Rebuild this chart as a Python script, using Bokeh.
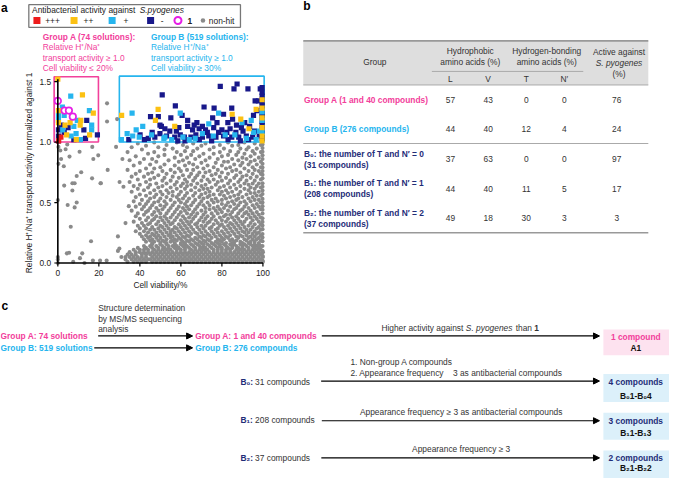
import math
from bokeh.plotting import figure
from bokeh.models import Range1d, Arrow, NormalHead
from bokeh.core.properties import value
from bokeh.embed import file_html
from bokeh.resources import INLINE

FONT = "Liberation Sans"
FS = "8.4px"
PINK = "#f2409b"
CYAN = "#26b5ee"
NAVY = "#18188a"
NAVY_T = "#1f2d78"
YEL = "#fcc113"
RED = "#ee1c1c"
MAG = "#e51ee5"
GREY = "#8a8a8a"
DARK = "#333333"

# ---------------- panel a data ----------------
x_ticks = [0, 20, 40, 60, 80, 100]
y_ticks = [0.0, 0.5, 1.0, 1.5]
activity_threshold = 1.0
group_a_max_viability = 20
group_b_min_viability = 30

# +++ (red)
act3 = [(1.5, 1.04), (0.4, 1.01)]
# ++ (yellow)
act2 = [(0, 1.52), (12, 1.39), (0.3, 1.26), (17.3, 1.24), (11.2, 1.18), (0.3, 1.16), (3.5, 1.14),
        (6, 1.16), (10.9, 1.14), (15.5, 1.06), (4.3, 1.06), (9, 1.02),
        (31.1, 1.22), (48.9, 1.27), (47.6, 1.18), (57, 1.13), (85, 1.23), (89.2, 1.19), (93.2, 1.11),
        (96.7, 1.27), (99.6, 1.35), (99.6, 1.28), (99.6, 1.20), (99.6, 1.12), (99.6, 1.05), (99.6, 1.01)]
# + (cyan)
act1 = [(6.3, 1.38), (2.2, 1.29), (0.3, 1.22), (3.1, 1.22), (15.4, 1.26), (9.5, 1.18), (7.8, 1.13),
        (16.5, 1.14), (16.5, 1.10), (6.5, 1.05), (8.9, 1.07), (11, 1.02), (0.3, 1.18), (2.4, 1.10),
        (59.7, 1.24), (78.4, 1.24), (89.8, 1.16), (73.6, 1.15), (70.5, 1.07), (81.6, 1.06), (86.3, 1.06),
        (95.4, 1.08), (61, 1.04), (64.1, 1.02), (52.2, 1.04), (96.7, 1.02), (99.6, 1.25), (99.6, 1.18),
        (99.6, 1.08), (94.3, 1.18), (36.2, 1.24), (41.4, 1.13), (38.2, 1.10), (33.8, 1.07), (36.5, 1.05),
        (45.7, 1.06), (51.7, 1.03), (31, 1.02), (39.7, 1.04), (55.5, 1.02), (67, 1.03), (75.8, 1.05),
        (92, 1.03), (98.2, 1.09)]
# - (navy)
act0 = [(14.1, 1.18), (1.6, 1.14), (12.7, 1.10), (19.3, 1.06), (0.3, 1.10), (0.3, 1.05), (3.1, 1.08),
        (7.8, 1.02), (0.3, 1.01), (5, 1.12), (13.5, 1.03),
        (50.9, 1.39), (79.2, 1.46), (85.9, 1.44), (87.4, 1.48), (92.7, 1.44), (98.7, 1.44), (96.2, 1.34),
        (97.8, 1.34), (57.3, 1.30), (71.3, 1.29), (76.2, 1.28), (84.8, 1.28), (49, 1.21), (55.1, 1.20),
        (60.6, 1.22), (63.3, 1.18), (67.8, 1.16), (75.5, 1.20), (80.8, 1.23), (85.2, 1.19), (95.4, 1.22),
        (97.1, 1.26), (77.6, 1.16), (82.9, 1.16), (87.1, 1.14), (91.1, 1.16), (49.8, 1.14), (52.2, 1.11),
        (54.6, 1.09), (59, 1.12), (63.3, 1.13), (65.7, 1.10), (68.9, 1.11), (72, 1.10), (76, 1.12),
        (80, 1.10), (84, 1.11), (86.8, 1.08), (90.3, 1.09), (95.9, 1.09), (49.8, 1.07), (53, 1.05),
        (57, 1.04), (59.7, 1.06), (61.7, 1.04), (64.9, 1.04), (67.3, 1.06), (70.5, 1.04), (73.6, 1.05),
        (77.1, 1.04), (80.8, 1.05), (84.8, 1.04), (88.2, 1.04), (91.9, 1.05), (95, 1.04), (98.2, 1.05),
        (57.8, 1.09), (66.5, 1.14), (70.5, 1.13), (72.9, 1.08), (78.4, 1.08), (82.4, 1.08), (89.5, 1.12),
        (93.5, 1.13), (45.2, 1.21), (34.6, 1.02), (40.1, 1.06), (44.1, 1.03), (47.3, 1.04), (42.2, 1.02),
        (50.5, 1.13), (93, 1.02), (62, 1.01), (69, 1.02), (75, 1.01), (83, 1.02), (89, 1.01), (46, 1.08),
        (58.5, 1.01), (99.6, 1.03), (99.6, 1.07), (99.6, 1.10), (99.6, 1.14), (99.6, 1.17), (99.6, 1.21),
        (99.6, 1.24), (99.6, 1.30), (99.6, 1.33), (99.6, 1.38), (99.6, 1.41), (99.6, 1.45)]
# compound 1 (magenta ring)
comp1 = [(0, 1.34), (3.3, 1.26), (5.4, 1.26), (7.3, 1.21)]

# non-hit (grey): sparse points
nonhit_sparse = [(24, 1.32), (24, 1.17), (28.9, 1.19), (0.3, 0.82), (1.6, 0.86), (3.8, 0.94), (4.6, 0.98),
                 (5.7, 0.88), (10.6, 0.92), (16.8, 0.96), (17.3, 0.86), (19.7, 0.89), (28.4, 0.96),
                 (2.9, 0.80), (3.1, 0.64), (7.1, 0.66), (7.1, 0.60), (9.2, 0.72), (11.4, 0.75), (16.7, 0.70),
                 (21, 0.66), (24.3, 0.77), (4.8, 0.48), (8.2, 0.46), (9.2, 0.50), (6.3, 0.30), (16.2, 0.18),
                 (29.3, 0.22), (30.1, 0.67), (32, 0.63), (34.6, 0.47), (4.4, 0.08), (5.5, 0.085), (11.9, 0.08),
                 (10.8, 0.04), (17.1, 0.02), (20.6, 0.02), (23.8, 0.02), (0, 0.05), (0, 0.03), (0, 0.0),
                 (0, 0.52), (29.3, 0.10), (30, 0.12), (0.3, 0.96), (1.2, 0.93), (7.5, 0.01), (13, 0.0),
                 (8.2, 0.66), (20.8, 0.66), (31.5, 0.86), (33, 0.33), (31, 0.05)]
# non-hit (grey): cloud, by activity level
nonhit_rows = [
    (0.997, [47, 58, 83, 91]), (0.988, [39, 66, 72, 96]), (0.976, [53, 61, 79, 88, 99]),
    (0.969, [43, 70, 85]), (0.957, [36, 49, 63, 76, 93]), (0.946, [56, 68, 81, 89, 97]),
    (0.938, [41, 52, 74, 92]), (0.925, [62, 66, 84, 95]), (0.917, [34, 47, 58, 79, 88, 99]),
    (0.903, [44, 71, 76, 91, 96]), (0.894, [52, 60, 65, 83, 87]), (0.882, [38, 49, 69, 80, 94]),
    (0.871, [57, 63, 74, 90, 98]), (0.860, [42, 46, 67, 78, 85, 92]), (0.849, [35, 54, 61, 72, 88, 96]),
    (0.837, [48, 59, 81, 83, 94, 99]), (0.828, [40, 64, 70, 77, 90]), (0.815, [45, 52, 66, 86, 93, 97]),
    (0.806, [37, 57, 62, 73, 80, 89]), (0.792, [50, 68, 76, 84, 95, 99]), (0.781, [43, 47, 59, 71, 82, 91]),
    (0.770, [34, 55, 63, 66, 78, 87, 96]), (0.760, [40, 51, 60, 74, 85, 93, 98]),
    (0.748, [46, 57, 69, 72, 80, 89]), (0.737, [38, 44, 53, 65, 77, 83, 95, 99]),
    (0.726, [49, 61, 68, 75, 87, 92]), (0.714, [36, 42, 56, 64, 71, 79, 90, 97]),
    (0.704, [47, 52, 59, 67, 82, 86, 94]), (0.691, [39, 45, 62, 73, 76, 89, 99]),
    (0.681, [51, 55, 66, 70, 80, 84, 92, 96]), (0.670, [35, 43, 58, 63, 74, 78, 88]),
    (0.658, [48, 53, 61, 68, 83, 91, 95, 98]), (0.647, [40, 45, 57, 65, 72, 77, 86, 93]),
    (0.636, [37, 51, 60, 63, 70, 81, 89, 97]), (0.624, [44, 49, 55, 67, 75, 79, 84, 94, 99]),
    (0.613, [39, 58, 62, 71, 73, 87, 91, 96]), (0.602, [42, 47, 53, 65, 69, 78, 82, 93]),
    (0.589, [36, 50, 56, 60, 74, 80, 85, 89, 98]), (0.579, [45, 54, 63, 67, 72, 83, 94, 96]),
    (0.567, [40, 48, 51, 59, 70, 76, 79, 88, 92]), (0.556, [43, 56, 62, 66, 74, 81, 86, 97, 99]),
    (0.545, [38, 47, 53, 58, 69, 73, 84, 90, 95]), (0.533, [45, 50, 61, 64, 71, 77, 82, 88, 93]),
    (0.522, [41, 55, 59, 67, 75, 80, 87, 96, 98]), (0.510, [37, 44, 49, 52, 63, 70, 78, 85, 91, 94]),
    (0.500, [47, 57, 60, 66, 73, 76, 83, 89, 99]), (0.488, [40, 43, 53, 62, 69, 80, 86, 92, 97]),
    (0.478, [46, 50, 56, 65, 71, 74, 82, 88, 95]), (0.466, [38, 42, 52, 59, 63, 68, 78, 84, 91, 98]),
    (0.455, [45, 48, 55, 61, 72, 76, 81, 87, 93, 96]), (0.444, [41, 51, 58, 64, 67, 74, 79, 86, 90, 99]),
    (0.433, [36, 44, 49, 54, 62, 70, 77, 83, 89, 94]), (0.421, [43, 47, 57, 60, 66, 72, 80, 85, 92, 97]),
    (0.410, [39, 50, 53, 63, 68, 75, 78, 88, 91, 95]), (0.399, [42, 46, 56, 59, 65, 71, 82, 84, 93, 98]),
    (0.387, [38, 48, 52, 61, 67, 73, 76, 81, 87, 90, 96]), (0.376, [44, 50, 55, 58, 64, 70, 79, 85, 94, 99]),
    (0.365, [40, 47, 53, 62, 66, 72, 75, 83, 88, 92, 97]), (0.354, [43, 46, 51, 57, 60, 69, 77, 80, 86, 95]),
    (0.342, [37, 49, 54, 63, 65, 71, 74, 82, 89, 91, 98]), (0.331, [41, 45, 52, 56, 61, 68, 73, 78, 84, 87, 94]),
    (0.320, [44, 48, 55, 59, 64, 67, 76, 80, 85, 90, 96, 99]),
    (0.308, [39, 42, 50, 53, 62, 70, 72, 79, 83, 88, 93]),
    (0.297, [46, 51, 57, 60, 65, 68, 75, 81, 86, 91, 95, 98]),
    (0.286, [40, 43, 49, 54, 58, 63, 71, 74, 78, 84, 89, 97]),
    (0.275, [45, 47, 52, 56, 61, 66, 69, 77, 82, 87, 92, 94, 99]),
    (0.263, [38, 42, 50, 55, 59, 64, 72, 75, 80, 85, 90, 96]),
    (0.252, [44, 48, 53, 57, 62, 67, 70, 78, 83, 88, 91, 93, 98]),
    (0.241, [40, 46, 51, 55, 60, 65, 68, 73, 76, 81, 86, 95, 97]),
    (0.230, [43, 47, 49, 54, 58, 63, 71, 74, 79, 84, 89, 92, 99]),
    (0.219, [41, 45, 52, 56, 61, 64, 69, 72, 77, 82, 87, 90, 94, 96]),
    (0.208, [44, 48, 50, 55, 59, 62, 67, 70, 75, 80, 83, 88, 93, 98]),
    (0.197, [42, 46, 53, 57, 60, 65, 68, 73, 78, 81, 85, 91, 95, 97]),
    (0.186, [45, 49, 51, 56, 58, 63, 66, 71, 74, 79, 84, 87, 92, 99]),
    (0.176, [43, 47, 52, 55, 61, 64, 69, 72, 77, 80, 86, 89, 94, 96]),
    (0.166, [46, 50, 53, 57, 60, 62, 67, 70, 75, 78, 82, 85, 90, 93, 98]),
    (0.155, [46, 50, 53, 57, 60, 62, 65, 68, 71, 73, 76, 79, 81, 84, 86, 89, 91, 94, 96, 98]),
    (0.14, [42, 45, 48, 51, 54, 56, 58, 61, 63, 66, 69, 71, 74, 77, 79, 82, 85, 87, 90, 92, 95, 97, 99]),
    (0.125, [39, 43, 46, 49, 52, 54, 57, 59, 62, 64, 67, 70, 72, 75, 78, 80, 83, 85, 88, 90, 93, 96, 98]),
    (0.11, [37, 40, 42, 44, 47, 49, 51, 53, 55, 58, 60, 62, 65, 67, 69, 71, 73, 76, 78, 80, 82, 84, 87,
            89, 91, 93, 95, 97, 99]),
    (0.09, [35, 38, 40, 42, 44, 46, 48, 50, 52, 54, 56, 58, 60, 62, 64, 66, 68, 70, 72, 74, 76, 78, 80,
            82, 84, 86, 88, 90, 92, 94, 96, 98, 100]),
    (0.07, [34, 36, 38, 41, 43, 45, 47, 49, 51, 53, 55, 57, 59, 61, 63, 65, 67, 69, 71, 73, 75, 77, 79,
            81, 83, 85, 87, 89, 91, 93, 95, 97, 99]),
    (0.05, [33, 35, 37, 39, 41, 43, 46, 48, 50, 52, 54, 56, 58, 60, 62, 64, 66, 68, 70, 72, 74, 76, 78,
            80, 82, 84, 86, 88, 90, 92, 94, 96, 98, 100]),
    (0.03, [33, 36, 38, 40, 42, 44, 45, 47, 49, 51, 53, 55, 57, 59, 61, 63, 65, 67, 69, 71, 73, 75, 77,
            79, 81, 83, 85, 87, 89, 91, 93, 95, 97, 99]),
    (0.01, [34, 37, 39, 41, 43, 46, 48, 50, 52, 54, 56, 58, 60, 62, 64, 66, 68, 70, 72, 74, 76, 78, 80,
            82, 84, 86, 88, 90, 92, 94, 96, 98, 100]),
]
# non-hit at 100 % viability
nonhit_edge_y = [0.02, 0.06, 0.1, 0.14, 0.18, 0.21, 0.24, 0.28, 0.31, 0.34, 0.37, 0.41, 0.44, 0.47,
                 0.5, 0.53, 0.57, 0.6, 0.63, 0.66, 0.7, 0.73, 0.76, 0.79, 0.82, 0.86, 0.89, 0.92, 0.95, 0.98]

# ---------------- panel b data ----------------
tbl_rows = ["Group A (1 and 40 compounds)", "Group B (276 compounds)",
            "B\u2080: the number of T and N\u2032 = 0|(31 compounds)",
            "B\u2081: the number of T and N\u2032 = 1|(208 compounds)",
            "B\u2082: the number of T and N\u2032 = 2|(37 compounds)"]
tbl_L = [57, 44, 37, 44, 49]
tbl_V = [43, 40, 63, 40, 18]
tbl_T = [0, 12, 0, 11, 30]
tbl_N = [0, 4, 0, 5, 3]
tbl_active = [76, 24, 97, 17, 3]

# ---------------- panel c data ----------------
sol_counts = [74, 519]
cmp_labels = ["1 and 40", "276"]
sub_counts = [31, 208, 37]
final_counts = ["1 compound", "4 compounds", "3 compounds", "2 compounds"]
final_ids = ["A1", "B\u20801-B\u20804", "B\u20811-B\u20813", "B\u20821-B\u20822"]


def unzip(pts):
    return [p[0] for p in pts], [p[1] for p in pts]


# One canvas: layout coordinates in the default ranges, scatter data in the extra ranges
PX0, PPU_X = 58.7, 2.1      # canvas position of viability 0, pixels per %
PY0, PPU_Y = 271.3, 125.0   # canvas position of activity 0, pixels per unit
W_REF, H_REF = 685, 494

p = figure(width=669, height=478, x_range=Range1d(0, W_REF), y_range=Range1d(H_REF, 0),
           output_backend="svg", toolbar_location=None, x_axis_type=None, y_axis_type=None,
           min_border=0, outline_line_color=None)
p.background_fill_color = "white"
p.border_fill_color = "white"
p.extra_x_ranges = {"via": Range1d((0 - PX0) / PPU_X, (W_REF - PX0) / PPU_X)}
p.extra_y_ranges = {"act": Range1d((PY0 - H_REF) / PPU_Y, (PY0 - 0) / PPU_Y)}
D = dict(x_range_name="via", y_range_name="act")


def T(x, y, s, color=DARK, style="normal", align="left", size=FS, angle=0.0, **kw):
    p.text(x=[x], y=[y], text=[s], text_font=value(FONT), text_font_size=size, angle=angle,
           text_font_style=style, text_color=color, text_align=align, text_baseline="middle", **kw)


# ---------------- panel a: header ----------------
T(0.5, 8, "a", color="black", style="bold", size="12px")
p.quad(left=[29], right=[245.7], top=[4.3], bottom=[27.7], fill_color=None,
       line_color="#777777", line_width=1.3)
T(32.3, 10, "Antibacterial activity against", color="#222222")
T(142.5, 10, "S.pyogenes", color="#222222", style="italic")
p.scatter(x=[37.3, 75.3, 114.3, 153.7], y=[20.7] * 4, marker="square", size=7,
          fill_color=[RED, YEL, CYAN, NAVY], line_color=None)
p.scatter(x=[181.7], y=[20.7], marker="circle", size=7, fill_color="white", line_color=MAG, line_width=2)
p.scatter(x=[207.3], y=[20.7], marker="circle", size=4.5, fill_color=GREY, line_color=None)
for xx, s in [(45.7, "+++"), (85, "++"), (126, "+"), (164, "-"), (213.3, "non-hit")]:
    T(xx, 21, s, color="#222222")
T(191.5, 21, "1", color="#222222", style="bold")
for xx, col, hdr, crit in [(43.3, PINK, "Group A (%d solutions):" % sol_counts[0], "Cell viability \u2264 20%"),
                           (154, CYAN, "Group B (%d solutions):" % sol_counts[1], "Cell viability \u2265 30%")]:
    T(xx, 37.3, hdr, color=col, style="bold")
    T(xx, 48.3, "Relative H\u207a/Na\u207a", color=col)
    T(xx, 59, "transport activity \u2265 1.0", color=col)
    T(xx, 69.5, crit, color=col)

# ---------------- panel a: scatter ----------------
gx, gy = unzip(nonhit_sparse)
for yv, xs in nonhit_rows:
    gx += xs
    gy += [yv] * len(xs)
gx += [99.8] * len(nonhit_edge_y)
gy += nonhit_edge_y
p.scatter(x=gx, y=gy, marker="circle", size=4.1, fill_color=GREY, line_color=None, **D)

p.quad(left=[-1.8], right=[group_a_max_viability - 0.2], bottom=[activity_threshold], top=[1.54],
       fill_color=None, line_color=PINK, line_width=1.6, **D)
p.quad(left=[group_b_min_viability], right=[100.6], bottom=[activity_threshold], top=[1.545],
       fill_color=None, line_color=CYAN, line_width=1.6, **D)

for pts, col in [(act0, NAVY), (act1, CYAN), (act2, YEL), (act3, RED)]:
    xs, ys = unzip(pts)
    p.scatter(x=xs, y=ys, marker="square", size=5.2, fill_color=col, line_color=None, **D)
cx, cy = unzip(comp1)
p.scatter(x=cx, y=cy, marker="circle", size=6.5, fill_color="white", line_color=MAG, line_width=1.7, **D)

# axes of the scatter (on the data scales)
p.segment(x0=[0, 0], y0=[0, 0], x1=[0, x_ticks[-1]], y1=[1.52, 0], line_color="black",
          line_width=1.6, **D)
p.segment(x0=[0] * len(y_ticks), x1=[-1.7] * len(y_ticks), y0=y_ticks, y1=y_ticks,
          line_color="black", line_width=1.2, **D)
p.segment(x0=x_ticks, x1=x_ticks, y0=[0] * len(x_ticks), y1=[-0.028] * len(x_ticks),
          line_color="black", line_width=1.2, **D)
p.text(x=[-3.3] * len(y_ticks), y=y_ticks, text=["%.1f" % t for t in y_ticks], text_font=value(FONT),
       text_font_size=FS, text_color="#222222", text_align="right", text_baseline="middle", **D)
p.text(x=x_ticks, y=[-0.083] * len(x_ticks), text=[str(t) for t in x_ticks], text_font=value(FONT),
       text_font_size=FS, text_color="#222222", text_align="center", text_baseline="middle", **D)
T(50, -0.185, "Cell viability/%", color="#222222", align="center", **D)
T(-14.1, 0.745, "Relative H\u207a/Na\u207a transport activity normalized against 1", color="#222222",
  align="center", angle=math.pi / 2, **D)

# ---------------- panel b: table ----------------
T(310, 6, "b", color="black", style="bold", size="12px")
p.quad(left=[310], right=[663.3], top=[41.7], bottom=[87.3], fill_color="#dedede", line_color=None)
p.segment(x0=[310, 441.7, 310, 310, 310], x1=[663.3, 596.7, 663.3, 663.3, 663.3],
          y0=[41.7, 73.3, 87.3, 147.8, 240], y1=[41.7, 73.3, 87.3, 147.8, 240],
          line_color=["#999999", "#aaaaaa", "#aaaaaa", "#aaaaaa", "#999999"],
          line_width=[1.6, 1, 1, 1.2, 1.6])
T(383.3, 64, "Group", align="center")
T(481, 52.7, "Hydrophobic", align="center")
T(481, 63.5, "amino acids (%)", align="center")
T(559.3, 52.7, "Hydrogen-bonding", align="center")
T(559.3, 63.5, "amino acids (%)", align="center")
T(633.3, 53.7, "Active against", align="center")
T(633.3, 64.7, "S. pyogenes", align="center", style="italic")
T(633.3, 75.7, "(%)", align="center")
col_x = [460.7, 499.3, 538.3, 577.3, 631]
for xx, s in zip(col_x[:4], ["L", "V", "T", "N\u2032"]):
    T(xx, 80.7, s, align="center")
row_y = [102.7, 133.3, 164.3, 194.3, 225]
row_col = [PINK, CYAN, NAVY_T, NAVY_T, NAVY_T]
for i, (lab, yy, col) in enumerate(zip(tbl_rows, row_y, row_col)):
    parts = lab.split("|")
    if len(parts) == 1:
        T(310.7, yy, parts[0], color=col, style="bold")
    else:
        T(310.7, yy - 5.3, parts[0], color=col, style="bold")
        T(310.7, yy + 5.5, parts[1], color=col, style="bold")
    for xx, v in zip(col_x, [tbl_L[i], tbl_V[i], tbl_T[i], tbl_N[i], tbl_active[i]]):
        T(xx, yy, str(v), align="center")

# ---------------- panel c: flow ----------------
T(1, 316, "c", color="black", style="bold", size="12px")
T(100, 318.3, "Structure determination")
T(100, 329, "by MS/MS sequencing")
T(100, 339, "analysis")
T(0, 347, "Group A: %d solutions" % sol_counts[0], color=PINK, style="bold")
T(0, 359, "Group B: %d solutions" % sol_counts[1], color=CYAN, style="bold")
T(199.3, 347, "Group A: %s compounds" % cmp_labels[0], color=PINK, style="bold")
T(199.3, 359, "Group B: %s compounds" % cmp_labels[1], color=CYAN, style="bold")

for (x0, x1, yy) in [(100, 196.7, 346.7), (96, 196.7, 359), (329, 613.3, 346.7),
                     (328.3, 613.3, 393.3), (329, 613.3, 434.3), (328.5, 613.3, 472.7)]:
    p.add_layout(Arrow(end=NormalHead(size=6, fill_color="black", line_color="black", line_width=1),
                       x_start=x0, y_start=yy, x_end=x1, y_end=yy, line_width=1.2, line_color="black"))

T(390, 338.3, "Higher activity against")
T(476.5, 338.3, "S. pyogenes", style="italic")
T(527.5, 338.3, "than")
T(546.5, 338.3, "1", style="bold")

for yy, sub, n in [(394, "\u2080", sub_counts[0]), (434, "\u2081", sub_counts[1]), (473, "\u2082", sub_counts[2])]:
    T(245.7, yy, "B%s:" % sub, color=NAVY_T, style="bold")
    T(260.7, yy, "%d compounds" % n)

T(358.3, 374, "1. Non-group A compounds")
T(358.3, 385, "2. Appearance frequency")
T(463.3, 385, "3 as antibacterial compounds")
T(471.7, 425, "Appearance frequency \u2265 3 as antibacterial compounds", align="center")
T(471.7, 464, "Appearance frequency \u2265 3", align="center")

p.quad(left=[617.3] * 4, right=[685] * 4, top=[340, 386, 426, 465], bottom=[366.7, 415, 454, 494],
       fill_color=["#fde2ef", "#dcf0fa", "#dcf0fa", "#dcf0fa"], line_color=None)
box_y = [(347.7, 359.3), (394.3, 408.3), (434.3, 446.7), (472.7, 483.3)]
box_col = [PINK, NAVY_T, NAVY_T, NAVY_T]
for (y1, y2), c1, lab, ids in zip(box_y, box_col, final_counts, final_ids):
    T(650.5, y1, lab, color=c1, style="bold", align="center")
    T(650.5, y2, ids, color="#111111", style="bold", align="center")

open("out.html", "w").write(file_html(p, INLINE))
